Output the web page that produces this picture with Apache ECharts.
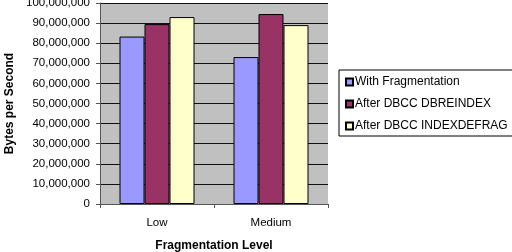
<!DOCTYPE html>
<html><head><meta charset="utf-8">
<script src="https://cdn.jsdelivr.net/npm/echarts@6/dist/echarts.min.js"></script>
<style>html,body{margin:0;padding:0;background:#fff}#c{width:512px;height:252px}</style>
</head><body><div id="c"></div>
<script>
const categories = ['Low', 'Medium'];
const withFragmentation = [83300000, 73100000];
const afterDbreindex = [89500000, 94500000];
const afterIndexdefrag = [93000000, 89000000];
const seriesNames = ['With Fragmentation', 'After DBCC DBREINDEX', 'After DBCC INDEXDEFRAG'];
const colors = ['#9999ff', '#993366', '#ffffcc'];

const font = 'Liberation Sans, Arial, sans-serif';
const chart = echarts.init(document.getElementById('c'));
const mk = (name, data, color) => ({
  name, type: 'bar', data, barWidth: 25, barGap: '0%',
  itemStyle: { color, borderColor: '#000', borderWidth: 1 },
  emphasis: { disabled: true }
});
chart.setOption({
  animation: false,
  textStyle: { fontFamily: font },
  grid: { left: 100, right: 184, top: 3, bottom: 48, show: true, backgroundColor: '#c0c0c0', borderWidth: 0, outerBoundsMode: 'none', containLabel: false },
  legend: {
    orient: 'vertical', left: 339, top: 70, width: 165, height: 65,
    backgroundColor: '#fff', borderColor: '#000', borderWidth: 1,
    padding: [6, 20, 4, 6], itemGap: 10, itemWidth: 7, itemHeight: 7,
    icon: 'rect',
    textStyle: { fontSize: 12, color: '#000', fontFamily: font, padding: [0, 0, 0, -3] },
    data: seriesNames
  },
  xAxis: {
    type: 'category', data: categories,
    name: 'Fragmentation Level', nameLocation: 'middle', nameGap: 36,
    nameTextStyle: { fontWeight: 'bold', fontSize: 12, color: '#000' },
    axisLine: { lineStyle: { color: '#555', width: 1 } },
    axisTick: { show: true, length: 4, lineStyle: { color: '#555' } },
    axisLabel: { fontSize: 11.5, color: '#000', margin: 13 }
  },
  yAxis: {
    type: 'value', min: 0, max: 100000000, interval: 10000000,
    name: 'Bytes per Second', nameLocation: 'middle', nameGap: 84, nameRotate: 90,
    nameTextStyle: { fontWeight: 'bold', fontSize: 12, color: '#000' },
    axisLine: { show: true, lineStyle: { color: '#555' } },
    axisTick: { show: true, length: 4, lineStyle: { color: '#555' } },
    axisLabel: { fontSize: 11.5, color: '#000', margin: 10,
      formatter: v => v.toLocaleString('en-US') },
    splitLine: { show: true, lineStyle: { color: '#111', width: 1 } }
  },
  series: [
    mk(seriesNames[0], withFragmentation, colors[0]),
    mk(seriesNames[1], afterDbreindex, colors[1]),
    mk(seriesNames[2], afterIndexdefrag, colors[2])
  ]
});
</script></body></html>
